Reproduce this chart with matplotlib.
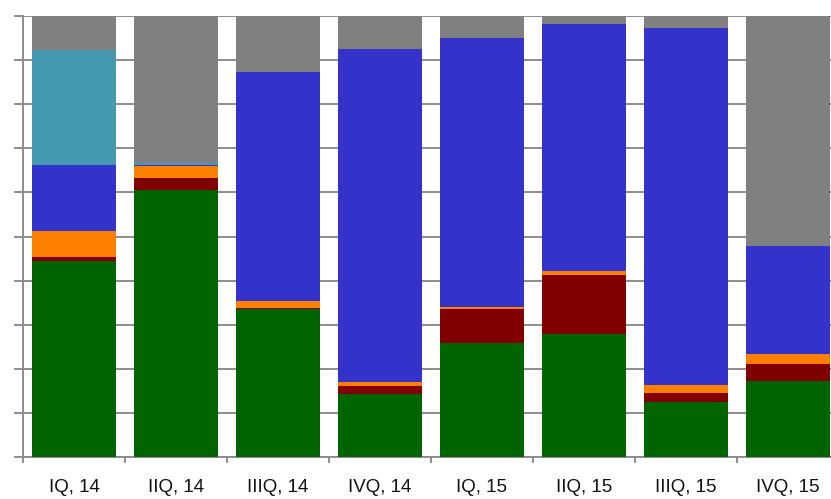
import numpy as np
import matplotlib
matplotlib.use("Agg")
from matplotlib import pyplot as plt

plt.rcParams['font.family'] = ['Liberation Sans', 'DejaVu Sans']

# Quarters on the x axis
quarters = ['IQ, 14', 'IIQ, 14', 'IIIQ, 14', 'IVQ, 14',
            'IQ, 15', 'IIQ, 15', 'IIIQ, 15', 'IVQ, 15']

# Shares in % (stacked from bottom to top)
green = [44.4, 60.5, 33.5, 14.2, 25.8, 28.0, 12.5, 17.3]
darkred = [1.0, 2.8, 0.2, 2.0, 7.7, 13.3, 1.9, 3.9]
orange = [5.9, 2.7, 1.7, 0.7, 0.6, 0.9, 1.9, 2.2]
blue = [15.0, 0.1, 51.8, 75.7, 60.8, 56.0, 80.9, 24.5]
teal = [26.0, 0.6, 0.0, 0.0, 0.0, 0.0, 0.0, 0.0]
gray = [7.7, 33.3, 12.8, 7.4, 5.1, 1.8, 2.8, 52.1]

series = [green, darkred, orange, blue, teal, gray]
colors = ['#006400', '#800000', '#ff8000', '#3333cc', '#4499b0', '#808080']

fig = plt.figure(figsize=(8.31, 4.99), dpi=100)
ax = fig.add_axes([23 / 831, 42 / 499, 816 / 831, 441 / 499])

x = np.arange(len(quarters))
bottom = np.zeros(len(quarters))
for vals, col in zip(series, colors):
    ax.bar(x, vals, width=0.83, bottom=bottom, color=col,
           edgecolor='none', zorder=3)
    bottom += np.array(vals)

ax.set_xlim(-0.5, len(quarters) - 0.5)
ax.set_ylim(0, 100)

# horizontal grid
ax.set_yticks(np.arange(0, 101, 10))
ax.yaxis.grid(True, color='#8c8c8c', lw=1.4, zorder=0)
ax.set_yticklabels([])
ax.tick_params(axis='y', direction='out', length=6.5, width=1.4,
               color='#8c8c8c')

# category labels with boundary ticks
ax.set_xticks(x)
ax.set_xticklabels(quarters, fontsize=13.5, color='#111111')
ax.tick_params(axis='x', which='major', length=0, pad=15.5)
ax.set_xticks(np.arange(-0.5, len(quarters), 1.0), minor=True)
ax.tick_params(axis='x', which='minor', direction='out', length=4.5,
               width=1.4, color='#8c8c8c')

for side in ['top', 'right']:
    ax.spines[side].set_visible(False)
for side in ['left', 'bottom']:
    ax.spines[side].set_color('#8c8c8c')
    ax.spines[side].set_linewidth(1.4)

plt.savefig('out.png', dpi=100)
